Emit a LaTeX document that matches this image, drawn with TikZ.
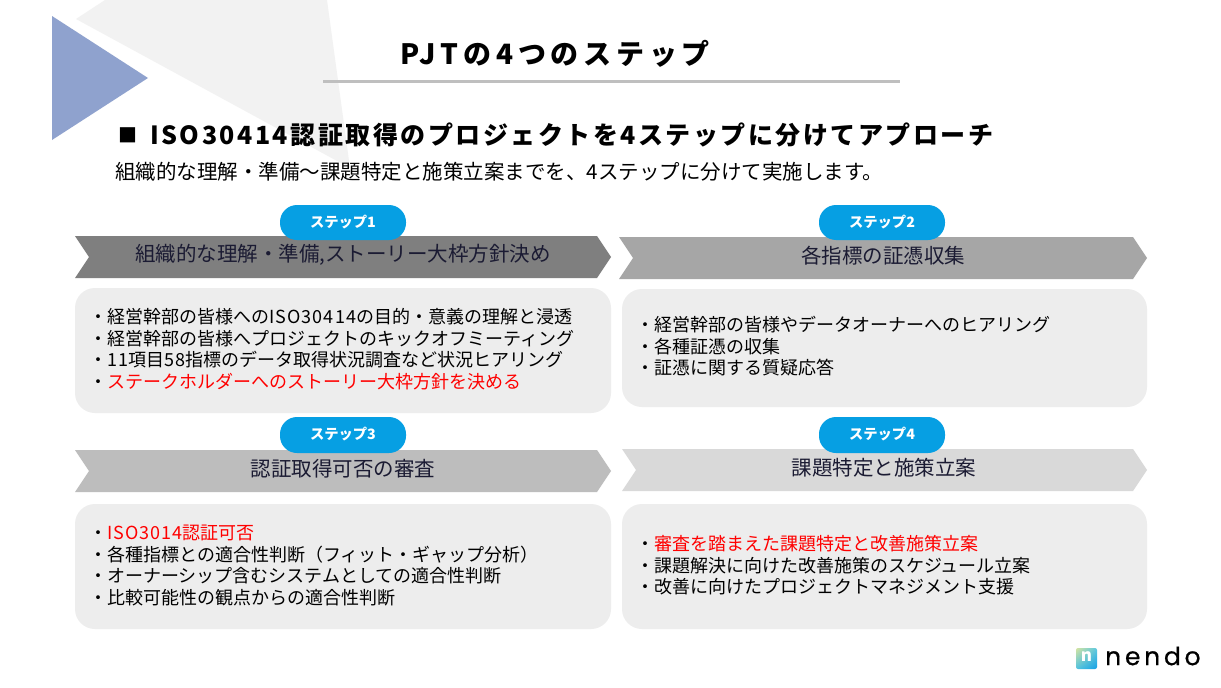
\documentclass[tikz,border=0pt]{standalone}
\usepackage{fontspec}
\setmainfont{Noto Sans CJK JP}
\newfontfamily\jp{Noto Sans CJK JP}
\newfontfamily\jpsp{Noto Sans CJK JP}[LetterSpace=17]
\newfontfamily\jpsq{Noto Sans CJK JP}[LetterSpace=10]
\newfontfamily\jpwide{Noto Sans CJK JP}[LetterSpace=6]
\newfontfamily\logofont{Poppins}[LetterSpace=15,FakeBold=0.6]
\usetikzlibrary{shadings}
\definecolor{pillblue}{HTML}{069FE3}
\definecolor{softgray}{HTML}{EDEDED}
\definecolor{navy}{HTML}{1B1B33}
\definecolor{triblue}{HTML}{8FA2CE}
\definecolor{trigray}{HTML}{F2F2F2}
\definecolor{rulegray}{HTML}{BFBFBF}
\definecolor{bandA}{HTML}{7F7F7F}
\definecolor{bandB}{HTML}{A6A6A6}
\definecolor{bandC}{HTML}{BDBDBD}
\definecolor{bandD}{HTML}{D9D9D9}
\definecolor{logoUL}{HTML}{D6E4A0}
\definecolor{logoUR}{HTML}{5AC8E1}
\definecolor{logoLL}{HTML}{50C3E1}
\definecolor{logoLR}{HTML}{14A0E6}
\newcommand{\wlat}[1]{{\jpwide\fontsize{18}{18}\selectfont #1}}
\tikzset{
  panel/.style={fill=softgray,draw=none,rounded corners=20pt},
  pill/.style={fill=pillblue,draw=none,rounded corners=17pt},
  pilltext/.style={text=white,font=\jp\bfseries\fontsize{14.3}{14.3}\selectfont,inner sep=0pt},
  bandtext/.style={text=navy,font=\jp\fontsize{20.5}{20.5}\selectfont,inner sep=0pt},
  bodyline/.style={anchor=west,inner sep=0pt,text=black,font=\jp\fontsize{18}{18}\selectfont},
}
\begin{document}
\begin{tikzpicture}[x=1pt,y=-1pt]
\useasboundingbox (0,0) rectangle (1221,688);
\fill[white] (0,0) rectangle (1221,688);
% background triangles
\fill[trigray] (105,0) -- (327,0) -- (350,168) -- (76,19) -- cycle;
\fill[triblue] (52,16) -- (148,78) -- (52,140) -- cycle;
% title
\node[inner sep=0pt,anchor=center,font=\jpsp\bfseries\fontsize{28}{28}\selectfont] (title) at (555,54) {PJTの4つのステップ};
\coordinate (ruleL) at (323,81);
\coordinate (ruleR) at (900,81);
\draw[line width=3pt,rulegray] (ruleL) -- (ruleR);
% headline
\node[inner sep=0pt,anchor=west,font=\jp\fontsize{19}{19}\selectfont] (sq) at (118,135) {■};
\node[inner sep=0pt,anchor=west,font=\jpsq\bfseries\fontsize{25}{25}\selectfont] (head) at (150,135) {ISO30414認証取得のプロジェクトを4ステップに分けてアプローチ};
\node[inner sep=0pt,anchor=west,font=\jp\fontsize{20.5}{20.5}\selectfont] (sub) at (115,172) {組織的な理解・準備～課題特定と施策立案までを、4ステップに分けて実施します。};
% bands
\fill[bandA] (75,236) -- (597,236) -- (611,257) -- (597,278) -- (75,278) -- (89,257) -- cycle;
\fill[bandB] (619,237) -- (1133,237) -- (1147,258) -- (1133,279) -- (619,279) -- (633,258) -- cycle;
\fill[bandC] (75,450) -- (597,450) -- (611,471) -- (597,492) -- (75,492) -- (89,471) -- cycle;
\fill[bandD] (622,449) -- (1133,449) -- (1147,470) -- (1133,491) -- (622,491) -- (636,470) -- cycle;
\node[bandtext] (b1) at (343,255) {組織的な理解・準備,ストーリー大枠方針決め};
\node[bandtext] (b2) at (883,256) {各指標の証憑収集};
\node[bandtext] (b3) at (343,469) {認証取得可否の審査};
\node[bandtext] (b4) at (884,468) {課題特定と施策立案};
% pills
\fill[pill] (280,205) rectangle (406,240);
\fill[pill] (819,205) rectangle (945,240);
\fill[pill] (280,417) rectangle (406,453);
\fill[pill] (819,417) rectangle (945,453);
\node[pilltext] (p1) at (343,222) {ステップ1};
\node[pilltext] (p2) at (882,222) {ステップ2};
\node[pilltext] (p3) at (343,434) {ステップ3};
\node[pilltext] (p4) at (882,434) {ステップ4};
% panels
\fill[panel] (75,288) rectangle (611,413);
\fill[panel] (622,289) rectangle (1147,407);
\fill[panel] (75,504) rectangle (611,629);
\fill[panel] (622,504) rectangle (1147,629);
% panel 1
\node[bodyline] (a1) at (89,317) {・経営幹部の皆様への\wlat{ISO30414}の目的・意義の理解と浸透};
\node[bodyline] (a2) at (89,339) {・経営幹部の皆様へプロジェクトのキックオフミーティング};
\node[bodyline] (a3) at (89,360) {・\wlat{11}項目\wlat{58}指標のデータ取得状況調査など状況ヒアリング};
\node[bodyline] (a4) at (89,382) {・\textcolor{red}{ステークホルダーへのストーリー大枠方針を決める}};
% panel 2
\node[bodyline] (c1) at (636,325) {・経営幹部の皆様やデータオーナーへのヒアリング};
\node[bodyline] (c2) at (636,347) {・各種証憑の収集};
\node[bodyline] (c3) at (636,368) {・証憑に関する質疑応答};
% panel 3
\node[bodyline] (d1) at (89,533) {・\textcolor{red}{\wlat{ISO3014}認証可否}};
\node[bodyline] (d2) at (89,555) {・各種指標との適合性判断（フィット・ギャップ分析）};
\node[bodyline] (d3) at (89,576) {・オーナーシップ含むシステムとしての適合性判断};
\node[bodyline] (d4) at (89,598) {・比較可能性の観点からの適合性判断};
% panel 4
\node[bodyline] (e1) at (636,544) {・\textcolor{red}{審査を踏まえた課題特定と改善施策立案}};
\node[bodyline] (e2) at (636,566) {・課題解決に向けた改善施策のスケジュール立案};
\node[bodyline] (e3) at (636,587) {・改善に向けたプロジェクトマネジメント支援};
% logo
\shade[rounded corners=2pt,upper left=logoUL,upper right=logoUR,lower left=logoLL,lower right=logoLR] (1076,648) rectangle (1097,669);
\node[inner sep=0pt,text=white,font=\jp\bfseries\fontsize{17}{17}\selectfont] (ln) at (1086.5,657) {n};
\node[inner sep=0pt,anchor=west,text=black,font=\logofont\fontsize{25}{25}\selectfont] (lt) at (1105,656) {nendo};
\end{tikzpicture}
\end{document}
